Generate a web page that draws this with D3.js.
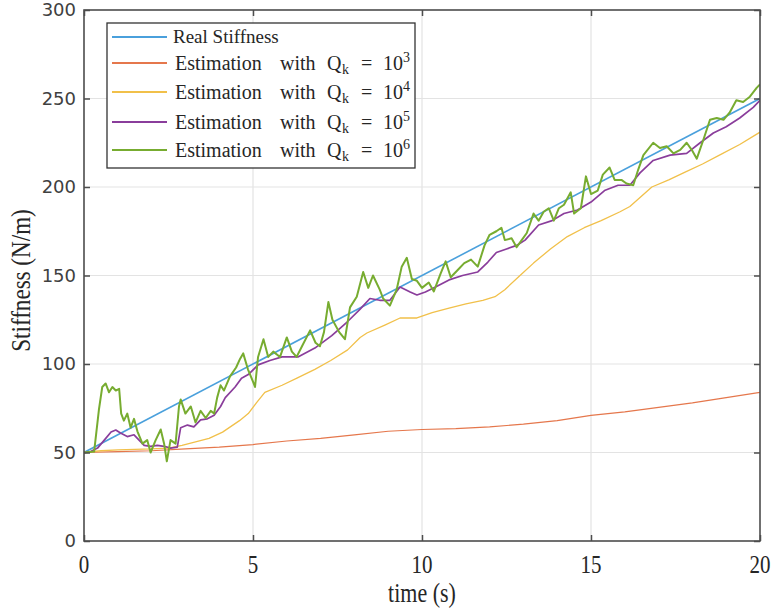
<!DOCTYPE html>
<html>
<head>
<meta charset="utf-8">
<script src="https://cdn.jsdelivr.net/npm/d3@7"></script>
<style>
  body { margin: 0; background: #fff; }
  svg { display: block; }
</style>
</head>
<body>
<svg id="chart"></svg>
<script>
// ---- data ----
const xTicks = [0, 5, 10, 15, 20];
const yTicks = [0, 50, 100, 150, 200, 250, 300];

const realT = [0, 20];
const realK = [50, 250];

const q3T = [0, 1, 2, 3, 4, 5, 6, 7, 8, 9, 10, 11, 12, 13, 14, 15, 16, 17, 18, 19, 20];
const q3K = [50, 50.5, 51, 52, 53, 54.5, 56.5, 58, 60, 62, 63, 63.5, 64.5, 66, 68, 71, 73, 75.5, 78, 81, 84];

const q4T = [0, 0.5, 1, 1.5, 2, 2.5, 2.9, 3.3, 3.7, 4.1, 4.6, 4.86, 5.1, 5.35, 5.86, 6.3, 6.83, 7.3, 7.8,
  8.17, 8.37, 8.9, 9.35, 9.85, 10.3, 10.8, 11.3, 11.8, 12.16, 12.45, 12.9, 13.3, 13.8, 14.3, 14.8, 15.3,
  15.86, 16.15, 16.8, 17.3, 17.8, 18.3, 18.8, 19.4, 20];
const q4K = [50, 51, 51.5, 51.8, 52, 52.5, 54, 56, 58, 61.5, 68, 72, 78, 84, 88, 92, 97, 102, 108,
  115, 117.5, 122, 126, 126, 129, 131.6, 134, 136, 138, 142, 150, 157, 165, 172, 177, 181,
  186, 189, 200, 204, 208.5, 213, 218, 224, 231];

const q5T = [0, 0.2, 0.4, 0.6, 0.8, 0.94, 1.08, 1.28, 1.48, 1.63, 1.78, 1.97, 2.17, 2.37, 2.56, 2.76, 2.86,
  3.06, 3.25, 3.45, 3.65, 3.85, 4.04, 4.18, 4.47, 4.66, 4.86, 5.15, 5.5, 5.86, 6.33, 6.83, 7.33, 7.8,
  8.17, 8.46, 8.75, 9.05, 9.35, 9.65, 9.85, 10.1, 10.4, 10.8, 11.2, 11.65, 11.95, 12.2, 12.5, 12.8,
  13.05, 13.45, 13.85, 14.2, 14.6, 15, 15.4, 15.8, 16.15, 16.45, 16.84, 17.34, 17.83, 18.23, 18.62,
  19, 19.4, 19.8, 20];
const q5K = [50, 50.5, 52.5, 57, 61.6, 62.7, 61, 59, 60, 57, 54, 53.5, 54, 53.5, 52.5, 53, 64,
  65.5, 64.5, 68.4, 69, 71, 76, 81, 87, 92, 94, 99.5, 102, 104, 104, 109, 116, 124,
  131, 137, 136, 136, 143.5, 140.7, 139, 140.7, 143.5, 147.5, 150, 152, 157.6, 163, 165, 167,
  170, 178.5, 181, 185, 187, 191.5, 198, 201, 201, 208, 215, 218, 219, 225, 230.5,
  234, 239, 245, 249];

const q6T = [0, 0.3, 0.44, 0.54, 0.64, 0.74, 0.84, 0.94, 1.04, 1.1, 1.18, 1.28, 1.38, 1.48, 1.58, 1.73,
  1.87, 1.97, 2.12, 2.27, 2.37, 2.45, 2.56, 2.71, 2.81, 2.86, 3, 3.16, 3.3, 3.45, 3.6, 3.75, 3.85,
  3.94, 4.04, 4.14, 4.32, 4.5, 4.62, 4.71, 4.85, 5, 5.06, 5.15, 5.31, 5.45, 5.6, 5.8, 6, 6.15, 6.29,
  6.45, 6.69, 6.85, 6.98, 7.1, 7.23, 7.35, 7.55, 7.72, 7.87, 8.07, 8.26, 8.41, 8.55, 8.75, 8.85,
  9.05, 9.25, 9.4, 9.55, 9.7, 9.85, 10, 10.2, 10.35, 10.55, 10.7, 10.85, 11.05, 11.25, 11.45, 11.65,
  11.85, 12, 12.2, 12.35, 12.45, 12.65, 12.8, 12.95, 13.1, 13.3, 13.45, 13.6, 13.75, 13.9, 14.05,
  14.2, 14.4, 14.5, 14.7, 14.85, 15, 15.2, 15.35, 15.55, 15.7, 15.9, 16.05, 16.25, 16.4, 16.55,
  16.84, 17.04, 17.24, 17.44, 17.64, 17.83, 17.98, 18.13, 18.33, 18.52, 18.72, 18.92, 19.1, 19.3,
  19.5, 19.7, 19.9, 20];
const q6K = [50, 50.5, 74, 87, 89, 84, 87, 85, 86, 72, 68, 72, 64, 69, 62, 55,
  57, 50, 57, 63, 55, 45, 57, 55, 76, 80, 72, 76, 67, 73.5, 69.5, 73.5, 72,
  81, 88, 85, 93, 98, 103, 106, 97, 90, 87, 104, 114, 104, 107, 104, 115, 107, 104,
  110, 119, 112, 110, 118, 135, 125, 118, 114, 132, 138, 152, 143, 150, 142, 137,
  133, 142, 155, 160, 148, 147, 143, 146, 141, 151, 158, 149, 153, 157, 159, 155,
  167, 173, 175, 177, 170, 171, 166, 170, 174, 185, 181, 186, 188, 181, 188,
  190, 197, 185, 188, 206, 196, 198, 207, 211, 204, 204, 202, 201, 210, 218,
  225, 222, 223, 219, 221, 225, 221, 216, 227, 238, 239, 238, 242, 249,
  248, 251, 256, 258];

const seriesNames = ["Real Stiffness", "1e3", "1e4", "1e5", "1e6"];
const seriesColors = ["#4aa0dc", "#e5774c", "#f1c04a", "#8a3d9b", "#77ac30"];
const exponents = ["3", "4", "5", "6"];

// ---- layout ----
const W = 773, H = 611;
const margin = {left: 84, top: 10, right: 13, bottom: 70};
const width = W - margin.left - margin.right;
const height = H - margin.top - margin.bottom;

const svg = d3.select("#chart").attr("width", W).attr("height", H);
const g = svg.append("g").attr("transform", `translate(${margin.left},${margin.top})`);

const x = d3.scaleLinear().domain([0, 20]).range([0, width]);
const y = d3.scaleLinear().domain([0, 300]).range([height, 0]);

// grid
g.append("g")
  .selectAll("line.gx")
  .data(xTicks.slice(1, -1))
  .join("line")
    .attr("x1", d => x(d)).attr("x2", d => x(d))
    .attr("y1", 0).attr("y2", height)
    .attr("stroke", "#e3e3e3").attr("stroke-width", 1.2);
g.append("g")
  .selectAll("line.gy")
  .data(yTicks.slice(1, -1))
  .join("line")
    .attr("x1", 0).attr("x2", width)
    .attr("y1", d => y(d)).attr("y2", d => y(d))
    .attr("stroke", "#e3e3e3").attr("stroke-width", 1.2);

// curves
g.append("clipPath").attr("id", "clip")
  .append("rect").attr("width", width).attr("height", height);

const line = d3.line()
  .x(d => x(d[0]))
  .y(d => y(d[1]));

const series = [
  d3.zip(realT, realK),
  d3.zip(q3T, q3K),
  d3.zip(q4T, q4K),
  d3.zip(q5T, q5K),
  d3.zip(q6T, q6K)
];
const widths = [1.6, 1.2, 1.3, 1.7, 2.0];

g.append("g")
  .attr("clip-path", "url(#clip)")
  .selectAll("path")
  .data(series)
  .join("path")
    .attr("fill", "none")
    .attr("stroke", (d, i) => seriesColors[i])
    .attr("stroke-width", (d, i) => widths[i])
    .attr("stroke-linejoin", "round")
    .attr("d", line);

// axes frame with inward ticks on all sides
const axisColor = "#4d4d4d";
const tl = 6;
g.append("g").call(d3.axisLeft(y).tickValues(yTicks).tickSize(-tl).tickFormat(""))
  .call(a => a.select(".domain").remove())
  .selectAll("line").attr("stroke", axisColor).attr("stroke-width", 1.5);
g.append("g").attr("transform", `translate(${width},0)`)
  .call(d3.axisRight(y).tickValues(yTicks).tickSize(-tl).tickFormat(""))
  .call(a => a.select(".domain").remove())
  .selectAll("line").attr("stroke", axisColor).attr("stroke-width", 1.5);
g.append("g").attr("transform", `translate(0,${height})`)
  .call(d3.axisBottom(x).tickValues(xTicks).tickSize(-tl).tickFormat(""))
  .call(a => a.select(".domain").remove())
  .selectAll("line").attr("stroke", axisColor).attr("stroke-width", 1.5);
g.append("g")
  .call(d3.axisTop(x).tickValues(xTicks).tickSize(-tl).tickFormat(""))
  .call(a => a.select(".domain").remove())
  .selectAll("line").attr("stroke", axisColor).attr("stroke-width", 1.5);

g.append("rect")
  .attr("width", width).attr("height", height)
  .attr("fill", "none").attr("stroke", axisColor).attr("stroke-width", 1.6);

// tick labels
g.append("g")
  .selectAll("text")
  .data(yTicks)
  .join("text")
    .attr("x", -8).attr("y", d => y(d)).attr("dy", "0.36em")
    .attr("text-anchor", "end")
    .attr("font-family", "DejaVu Sans")
    .attr("font-size", 18)
    .attr("fill", "#404040")
    .text(d => d);

g.append("g")
  .selectAll("text")
  .data(xTicks)
  .join("text")
    .attr("transform", d => `translate(${x(d)},${height + 32}) scale(1,1.2)`)
    .attr("text-anchor", "middle")
    .attr("font-family", "Liberation Serif")
    .attr("font-size", 21)
    .attr("fill", "#262626")
    .text(d => d);

// axis titles
svg.append("text")
  .attr("transform", `translate(${margin.left + width / 2},${H - 9}) scale(1,1.2)`)
  .attr("text-anchor", "middle")
  .attr("font-family", "Liberation Serif")
  .attr("font-size", 22)
  .attr("fill", "#262626")
  .text("time (s)");

svg.append("text")
  .attr("transform", `translate(30,${margin.top + height / 2 + 5}) rotate(-90) scale(1.05,1.25)`)
  .attr("text-anchor", "middle")
  .attr("font-family", "Liberation Serif")
  .attr("font-size", 22)
  .attr("fill", "#262626")
  .text("Stiffness (N/m)");

// legend
const lg = svg.append("g").attr("transform", "translate(107,23)");
lg.append("rect")
  .attr("width", 308).attr("height", 145)
  .attr("fill", "#fff").attr("stroke", "#333").attr("stroke-width", 1.3);

const rowY = [14, 40, 69, 99, 127];
const rows = lg.selectAll("g.row")
  .data(seriesNames)
  .join("g")
    .attr("class", "row")
    .attr("transform", (d, i) => `translate(0,${rowY[i]})`);

rows.append("line")
  .attr("x1", 5).attr("x2", 60)
  .attr("stroke", (d, i) => seriesColors[i])
  .attr("stroke-width", 2);

const fontL = {"font-family": "Liberation Serif", "font-size": 20, "fill": "#262626"};
function styled(sel) {
  Object.entries(fontL).forEach(([k, v]) => sel.attr(k, v));
  return sel;
}

rows.filter((d, i) => i === 0)
  .append("text").attr("x", 66).attr("y", 6)
  .call(styled)
  .attr("font-size", 19)
  .text(d => d);

const est = rows.filter((d, i) => i > 0);
est.append("text").attr("x", 68).attr("y", 7).call(styled).text("Estimation");
est.append("text").attr("x", 173).attr("y", 7).call(styled).text("with");
est.append("text").attr("x", 220).attr("y", 7).call(styled).text("Q");
est.append("text").attr("x", 235).attr("y", 11).call(styled).attr("font-size", 14).text("k");
est.append("text").attr("x", 254).attr("y", 7).call(styled).text("=");
est.append("text").attr("x", 276).attr("y", 7).call(styled).text("10");
est.append("text").attr("x", 296).attr("y", -1).call(styled).attr("font-size", 14)
  .text((d, i) => exponents[i]);
</script>
</body>
</html>
